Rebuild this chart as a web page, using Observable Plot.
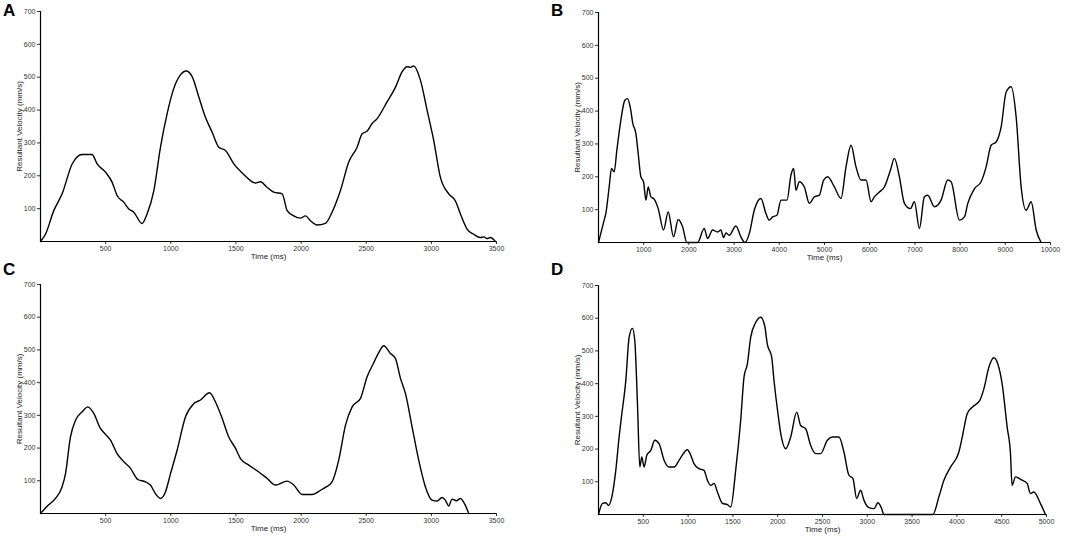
<!DOCTYPE html>
<html>
<head>
<meta charset="utf-8">
<script src="https://cdn.jsdelivr.net/npm/d3@7"></script>
<script src="https://cdn.jsdelivr.net/npm/@observablehq/plot@0.6"></script>
<style>
  html, body { margin: 0; padding: 0; background: #fff; }
  #wrap { position: relative; width: 1084px; height: 540px; font-family: "Liberation Sans", Arial, sans-serif; }
  .panel { position: absolute; }
  .letter { position: absolute; font-weight: bold; font-size: 17px; font-family: "Liberation Sans", Arial, sans-serif; color: #000; }
</style>
</head>
<body>
<div id="wrap">
  <div class="letter" style="left:3px;top:1px;">A</div>
  <div class="letter" style="left:551px;top:1px;">B</div>
  <div class="letter" style="left:3px;top:260px;">C</div>
  <div class="letter" style="left:551px;top:260px;">D</div>
</div>
<script>
// Panel A
const timeA = [0,38,102,166,243,320,396,435,499,550,588,640,678,716,780,818,870,921,972,1023,1074,1118,1164,1215,1266,1317,1368,1420,1484,1560,1650,1688,1739,1790,1855,1893,1944,1995,2034,2072,2123,2187,2238,2302,2366,2430,2469,2507,2545,2584,2660,2724,2776,2814,2840,2865,2916,2967,3018,3069,3133,3184,3223,3274,3325,3376,3402,3427,3453,3491];
const velA  = [0,22,94,145,236,265,265,236,211,180,140,119,99,89,55,84,155,287,389,466,507,519,502,440,378,333,287,277,236,204,178,182,165,150,145,94,78,71,78,63,50,55,89,155,242,287,328,336,359,374,425,469,517,532,530,534,491,400,308,196,145,124,84,38,22,12,14,9,12,0];

// Panel B
const timeB = [0,125,162,236,288,347,406,494,583,642,701,760,827,878,937,996,1048,1100,1159,1232,1321,1439,1542,1660,1764,1860,1956,2192,2339,2413,2524,2635,2708,2767,2819,2893,3040,3151,3240,3336,3446,3594,3705,3779,3852,3948,4037,4170,4258,4317,4369,4443,4554,4665,4775,4886,4981,5070,5218,5365,5476,5587,5697,5808,5919,6030,6103,6214,6325,6458,6546,6657,6768,6901,6989,7100,7210,7284,7432,7579,7727,7801,7985,8096,8170,8318,8465,8576,8687,8797,8908,9019,9129,9240,9351,9461,9572,9683,9793];
const velB  = [0,68,88,169,225,215,281,372,433,438,413,362,332,271,200,185,129,169,139,132,103,38,93,17,70,48,0,0,43,12,38,32,38,15,29,22,50,17,0,27,98,134,88,68,78,83,129,129,205,225,159,185,169,119,139,144,190,200,169,134,230,296,230,190,190,124,139,154,169,220,256,200,119,103,124,43,139,144,109,129,190,185,68,78,119,164,185,230,296,306,352,458,474,382,169,98,124,38,0];

// Panel C
const timeC = [0,51,115,166,192,230,269,320,363,409,460,499,537,588,640,691,747,806,844,882,921,959,998,1049,1113,1177,1228,1297,1343,1394,1445,1497,1535,1599,1676,1740,1803,1893,1944,2008,2085,2149,2187,2238,2289,2341,2392,2456,2507,2558,2596,2635,2686,2724,2763,2801,2852,2903,2954,3005,3044,3082,3107,3133,3159,3192,3223,3261,3287];
const velC  = [0,22,46,82,122,234,285,311,326,306,260,242,224,183,158,138,104,97,87,61,46,66,122,194,296,336,347,369,341,291,234,199,168,148,127,107,87,99,87,58,58,71,80,97,163,270,326,352,418,461,492,513,489,474,413,367,265,163,82,41,38,49,41,23,44,39,46,25,0];

// Panel D
const timeD = [0,45,82,112,149,193,230,256,305,342,379,405,435,461,483,509,539,584,628,677,732,788,844,911,992,1022,1067,1123,1178,1215,1253,1290,1327,1383,1439,1476,1531,1587,1624,1661,1699,1754,1810,1855,1884,1933,1959,2003,2041,2089,2145,2212,2256,2312,2368,2424,2479,2554,2609,2684,2739,2795,2840,2881,2925,2962,3018,3074,3119,3156,3186,3732,3799,3855,3929,4022,4060,4115,4171,4256,4301,4357,4412,4457,4505,4561,4598,4616,4654,4728,4784,4821,4858,4932,4988];
const velD  = [0,34,36,28,54,135,237,298,410,542,569,531,338,145,176,145,181,196,227,216,166,145,145,171,198,186,155,140,135,105,89,95,69,34,30,23,135,288,420,460,542,587,603,577,521,481,409,308,237,201,237,313,272,262,211,186,186,227,237,237,191,120,110,49,74,44,21,18,36,21,0,0,54,105,145,191,237,308,328,349,384,450,479,460,399,267,186,89,115,105,95,64,69,34,0];

const yTicks = [100,200,300,400,500,600,700];
const xTicksA = [500,1000,1500,2000,2500,3000,3500];
const xTicksB = [1000,2000,3000,4000,5000,6000,7000,8000,9000,10000];
const xTicksD = [500,1000,1500,2000,2500,3000,3500,4000,4500,5000];
const xLabel = "Time (ms)";
const yLabel = "Resultant Velocity (mm/s)";

function panel(times, vels, xmax, xTicks, box) {
  const data = times.map((t, i) => ({t, v: vels[i]}));
  const chart = Plot.plot({
    width: box.w, height: box.h,
    marginLeft: box.ml, marginRight: box.mr, marginTop: box.mt, marginBottom: box.mb,
    style: {fontFamily: "'Liberation Sans', Arial, sans-serif", fontSize: "7px", color: "#333", background: "transparent"},
    x: {domain: [0, xmax]},
    y: {domain: [0, 700]},
    marks: [
      Plot.axisY(yTicks, {tickSize: 3, tickPadding: 2, label: null, fontSize: 7, tickFormat: d => String(d), fill: "#333", stroke: "#333"}),
      Plot.axisX(xTicks, {tickSize: 3, tickPadding: 2, label: null, fontSize: 7, tickFormat: d => String(d), fill: "#333", stroke: "#333"}),
      Plot.ruleX([0], {stroke: "#000", strokeWidth: 1.2}),
      Plot.ruleY([0], {stroke: "#000", strokeWidth: 1.2}),
      Plot.line(data, {x: "t", y: "v", curve: "monotone-x", stroke: "#000", strokeWidth: 1.4}),
      Plot.text([xLabel], {frameAnchor: "bottom", dy: 17, fontSize: 8, fill: "#222", textAnchor: "middle"}),
      Plot.text([yLabel], {frameAnchor: "left", dx: -21, rotate: -90, fontSize: 8, fill: "#222", textAnchor: "middle"})
    ]
  });
  chart.classList.add("panel");
  chart.style.left = box.x + "px";
  chart.style.top = box.y + "px";
  document.getElementById("wrap").appendChild(chart);
}

panel(timeA, velA, 3500, xTicksA, {x: 0, y: 0, w: 540, h: 270, ml: 40, mr: 44, mt: 11, mb: 29});
panel(timeB, velB, 10000, xTicksB, {x: 540, y: 0, w: 544, h: 270, ml: 58, mr: 34, mt: 12, mb: 28});
panel(timeC, velC, 3500, xTicksA, {x: 0, y: 270, w: 540, h: 270, ml: 40, mr: 44, mt: 14, mb: 27});
panel(timeD, velD, 5000, xTicksD, {x: 540, y: 270, w: 544, h: 270, ml: 58, mr: 38, mt: 15, mb: 26});
</script>
</body>
</html>
